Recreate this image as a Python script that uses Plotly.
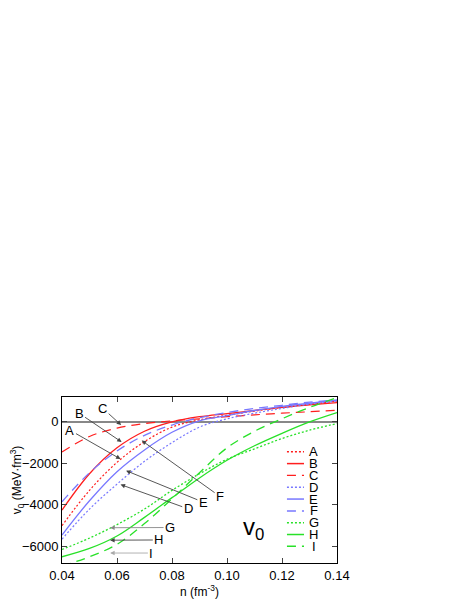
import plotly.graph_objects as go

# density grid (fm^-3) and v0 curves (MeV fm^3)
n = [0.04, 0.05, 0.06, 0.07, 0.08, 0.09, 0.10, 0.11, 0.12, 0.13, 0.14]

v_A = [-5000, -3300, -1950, -950, -250, 100, 320, 520, 700, 850, 1000]
v_B = [-4250, -2500, -1250, -450, 0, 250, 400, 550, 700, 820, 930]
v_C = [-1450, -700, -300, -80, 50, 150, 250, 340, 420, 490, 560]
v_D = [-5650, -4200, -3000, -1900, -1000, -250, 150, 420, 650, 850, 1000]
v_E = [-5450, -3800, -2400, -1350, -500, 50, 300, 550, 750, 900, 1050]
v_F = [-3850, -2450, -1400, -650, -150, 200, 450, 650, 800, 950, 1050]
v_G = [-6150, -5600, -4950, -4200, -3300, -2500, -1800, -1300, -800, -400, -80]
v_H = [-6500, -6100, -5500, -4600, -3650, -2700, -1850, -1150, -550, 0, 450]
v_I = [-6950, -6500, -5900, -4900, -3700, -2450, -1250, -450, 150, 700, 1170]

names = ["A", "B", "C", "D", "E", "F", "G", "H", "I"]
values = [v_A, v_B, v_C, v_D, v_E, v_F, v_G, v_H, v_I]

RED = "rgb(255,30,30)"
BLUE = "rgb(120,120,255)"
GREEN = "rgb(40,225,40)"
styles = [
    (RED, "2px,2px", 1.2),
    (RED, "solid", 1.3),
    (RED, "9px,6px", 1.2),
    (BLUE, "2px,2px", 1.2),
    (BLUE, "solid", 1.3),
    (BLUE, "9px,6px", 1.3),
    (GREEN, "2px,2px", 1.3),
    (GREEN, "solid", 1.3),
    (GREEN, "9px,6px", 1.3),
]

# arrow labels: (label, text x, text y, tip x, tip y)
arrows = [
    ("A", 0.0429, -400, 0.0613, -1790),
    ("B", 0.0462, 420, 0.0617, -970),
    ("C", 0.0548, 660, 0.0615, -150),
    ("D", 0.0859, -4190, 0.0613, -3020),
    ("E", 0.0914, -3870, 0.0633, -2350),
    ("F", 0.0975, -3600, 0.0690, -900),
    ("G", 0.0793, -5090, 0.0575, -5100),
    ("H", 0.0752, -5690, 0.0575, -5700),
    ("I", 0.0725, -6320, 0.0575, -6320),
]
arrow_colors = ["#444"] * 6 + ["#888", "#444", "#aaa"]

FONT = "Liberation Sans, Arial, sans-serif"

fig = go.Figure()
for name, v, (col, dash, w) in zip(names, values, styles):
    fig.add_trace(go.Scatter(x=n, y=v, mode="lines", name=name,
                             line=dict(color=col, dash=dash, width=w, shape="spline")))

for (lab, tx, ty, hx, hy), ac in zip(arrows, arrow_colors):
    fig.add_annotation(x=hx, y=hy, ax=tx, ay=ty, xref="x", yref="y",
                       axref="x", ayref="y", text=lab, showarrow=True,
                       arrowhead=2, arrowsize=1, arrowwidth=0.9, arrowcolor=ac,
                       font=dict(size=13, color="black", family=FONT))

# hand-made compact legend (plotly's own legend rows are too tall here)
leg_x0, leg_x1, leg_tx = 0.818, 0.88, 0.916
leg_top, leg_step = 0.670, 0.0712
for i, (name, (col, dash, w)) in enumerate(zip(names, styles)):
    yy = leg_top - i * leg_step
    fig.add_shape(type="line", xref="paper", yref="paper",
                  x0=leg_x0, x1=leg_x1, y0=yy, y1=yy,
                  line=dict(color=col, dash=dash, width=w + 0.2))
    fig.add_annotation(x=leg_tx, y=yy, xref="paper", yref="paper", text=name,
                       xanchor="center", yanchor="middle", showarrow=False,
                       font=dict(size=13, color="black", family=FONT))

fig.add_annotation(x=0.1097, y=-5150, xref="x", yref="y", text="v<sub>0</sub>",
                   xanchor="center", yanchor="middle", showarrow=False,
                   font=dict(size=24, color="black", family=FONT))

# page body has an 8px margin, so the margins are shifted to match
fig.update_layout(
    width=463, height=599,
    margin=dict(l=54, r=134, t=389, b=44),
    plot_bgcolor="white", paper_bgcolor="white",
    showlegend=False,
    font=dict(family=FONT, size=12, color="black"),
)
fig.update_xaxes(range=[0.04, 0.14], dtick=0.02, tickformat=".2f",
                 ticks="inside", ticklen=5, mirror="ticks", showline=True,
                 linecolor="black", linewidth=1, showgrid=False, zeroline=False,
                 tickfont=dict(size=13), automargin=False,
                 title=dict(text="n (fm<sup>-3</sup>)", font=dict(size=12), standoff=2))
fig.update_yaxes(range=[-6800, 1200], tickvals=[-6000, -4000, -2000, 0],
                 ticks="inside", ticklen=5, mirror="ticks", showline=True,
                 linecolor="black", linewidth=1, showgrid=False,
                 zeroline=True, zerolinecolor="#888", zerolinewidth=2,
                 tickfont=dict(size=13), automargin=False,
                 title=dict(text="v<sub>0</sub> (MeV·fm<sup>3</sup>)", font=dict(size=12), standoff=4))

fig.write_html("out.html")
